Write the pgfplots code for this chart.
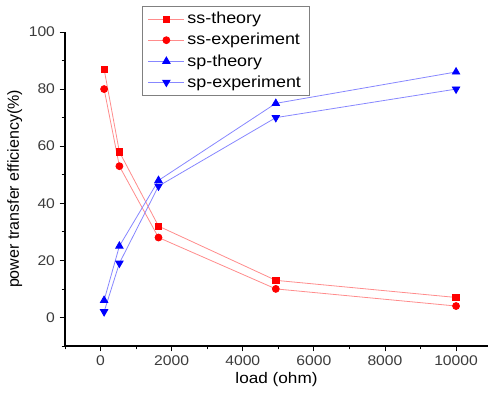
\documentclass[border=0pt]{standalone}
\usepackage{pgfplots}
\pgfplotsset{compat=1.18}
\usepackage{fontspec}
\setmainfont{Liberation Sans}[FakeStretch=1.12]
\newfontfamily\ylabfont{Liberation Sans}
\definecolor{lred}{RGB}{255,140,140}
\definecolor{lblue}{RGB}{135,135,255}
\definecolor{tgray}{RGB}{60,60,60}
\begin{document}
\begin{tikzpicture}[x=1pt,y=1pt]
\useasboundingbox (-48.75,-42.75) rectangle (318.75,259.5);
\begin{axis}[
  at={(0,0)}, anchor=south west,
  scale only axis, width=317.3pt, height=235.5pt,
  xmin=-1000, xmax=10900, ymin=-10, ymax=100,
  axis x line*=bottom, axis y line*=left,
  axis line style={black, line width=0.8pt},
  xtick={0,2000,...,10000}, ytick={0,20,...,100},
  minor xtick={-1000,1000,3000,5000,7000,9000},
  minor ytick={-10,10,30,50,70,90},
  tick align=outside, major tick length=4pt, minor tick length=2.5pt,
  tick style={black, line width=0.6pt},
  /pgf/number format/assume math mode=true,
  /pgf/number format/1000 sep={},
  scaled x ticks=false,
  ticklabel style={font=\fontsize{10.5}{12}\selectfont, text=tgray},
  xlabel={load (ohm)}, ylabel={power transfer efficiency(\%)},
  xlabel style={font=\fontsize{11.5}{14}\selectfont, yshift=2pt},
  ylabel style={font=\ylabfont\fontsize{12}{14}\selectfont, yshift=-2pt},
  clip=false,
  legend cell align=left,
  legend style={at={(rel axis cs:0.181,1.083)}, anchor=north west,
    draw=gray, line width=0.6pt, font=\fontsize{12}{14}\selectfont,
    row sep=1.6pt, inner xsep=4.5pt, inner ysep=2.5pt},
  legend image code/.code={\draw[mark repeat=2,mark phase=2] plot coordinates {(0pt,0pt) (13.5pt,0pt) (27pt,0pt)};},
  legend image post style={line width=0.6pt},
  every axis plot/.append style={line width=0.6pt},
]
\addplot[lred, mark=square*, mark size=2.4pt, mark options={fill=red, draw=red}] coordinates {(100,87) (530,58) (1630,32) (4930,13) (10000,7)};
\addlegendentry{ss-theory}
\addplot[lred, mark=*, mark size=2.6pt, mark options={fill=red, draw=red}] coordinates {(100,80) (530,53) (1630,28) (4930,10) (10000,4)};
\addlegendentry{ss-experiment}
\addplot[lblue, mark=triangle*, mark size=3.2pt, mark options={fill=blue, draw=blue}] coordinates {(100,6) (530,25) (1630,48) (4930,75) (10000,86)};
\addlegendentry{sp-theory}
\addplot[lblue, mark=triangle*, mark size=3.2pt, mark options={fill=blue, draw=blue, rotate=180}] coordinates {(100,2) (530,19) (1630,46) (4930,70) (10000,80)};
\addlegendentry{sp-experiment}
\end{axis}
\end{tikzpicture}
\end{document}
